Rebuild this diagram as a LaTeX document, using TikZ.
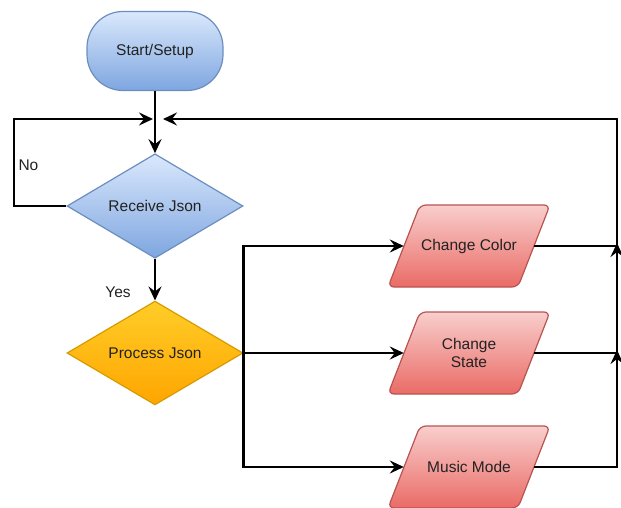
\documentclass[tikz,border=0pt]{standalone}
\usepackage{fontspec}
\setmainfont{Liberation Sans}
\usetikzlibrary{shapes.geometric,arrows.meta}
\definecolor{blueTop}{HTML}{DAE8FC}
\definecolor{blueBot}{HTML}{7EA6E0}
\definecolor{blueLine}{HTML}{6C8EBF}
\definecolor{orTop}{HTML}{FFCD28}
\definecolor{orBot}{HTML}{FFA500}
\definecolor{orLine}{HTML}{D79B00}
\definecolor{redTop}{HTML}{F8CECC}
\definecolor{redBot}{HTML}{EA6B66}
\definecolor{redLine}{HTML}{B85450}
\definecolor{txt}{HTML}{222222}
\newcommand\parabox[4]{%
  \path[redfill] (#2-81,#3+41) -- (#2-49,#3-41) -- (#2+81,#3-41) -- (#2+49,#3+41) -- cycle;
  \node[paratext] (#1) at (#2,#3) {#4};}
\begin{document}
\begin{tikzpicture}[x=1pt,y=-1pt,
  every node/.style={font=\fontsize{15.5}{18.5}\selectfont, text=txt},
  bluebox/.style={top color=blueTop,bottom color=blueBot,draw=blueLine,line width=1.2pt,inner sep=0pt},
  orbox/.style={top color=orTop,bottom color=orBot,draw=orLine,line width=1.2pt,inner sep=0pt},
  redfill/.style={top color=redTop,bottom color=redBot,draw=redLine,line width=1.2pt,rounded corners=6pt},
  paratext/.style={minimum width=130pt, minimum height=82pt, inner sep=0pt, align=center},
  decision/.style={diamond, minimum width=176pt, minimum height=94pt},
  wire/.style={line width=2.4pt, draw=black},
  conn/.style={wire, -{Stealth[length=14pt,width=13pt,inset=5pt]}}
]
\useasboundingbox (0,0) rectangle (621,508);

\node[bluebox, rounded corners=36pt, minimum width=136pt, minimum height=79pt] (start) at (155,51) {Start/Setup};
\node[bluebox, decision] (recv) at (155,206) {Receive Json};
\node[orbox, decision] (proc) at (155,353) {Process Json};
\parabox{color}{469}{246}{Change Color}
\parabox{state}{469}{353}{Change\\State}
\parabox{music}{469}{467}{Music Mode}

\node[anchor=west] (no) at (15,165) {No};
\node (yes) at (118,292) {Yes};

\coordinate (jl) at (153,119);
\coordinate (jr) at (163,119);
\coordinate (lt) at (14,119);
\coordinate (rt) at (617,119);
\coordinate (jc) at (617,246);
\coordinate (jct) at (617,243);
\coordinate (jcb) at (617,262);
\coordinate (js) at (617,353);
\coordinate (jst) at (617,350);
\coordinate (jsb) at (617,369);

\draw[conn] (start) -- (recv);
\draw[conn] (recv.west) -| (lt) -- (jl);
\draw[conn] (recv) -- (proc);
\draw[conn] (proc.east) |- (color.west);
\draw[conn] (proc.east) -- (state.west);
\draw[conn] (proc.east) |- (music.west);
\draw[conn] (music.east) -| (rt) -- (jr);
\draw[wire] (color.east) -- (jc);
\draw[wire] (state.east) -- (js);
\draw[conn] (jcb) -- (jct);
\draw[conn] (jsb) -- (jst);
\end{tikzpicture}
\end{document}
